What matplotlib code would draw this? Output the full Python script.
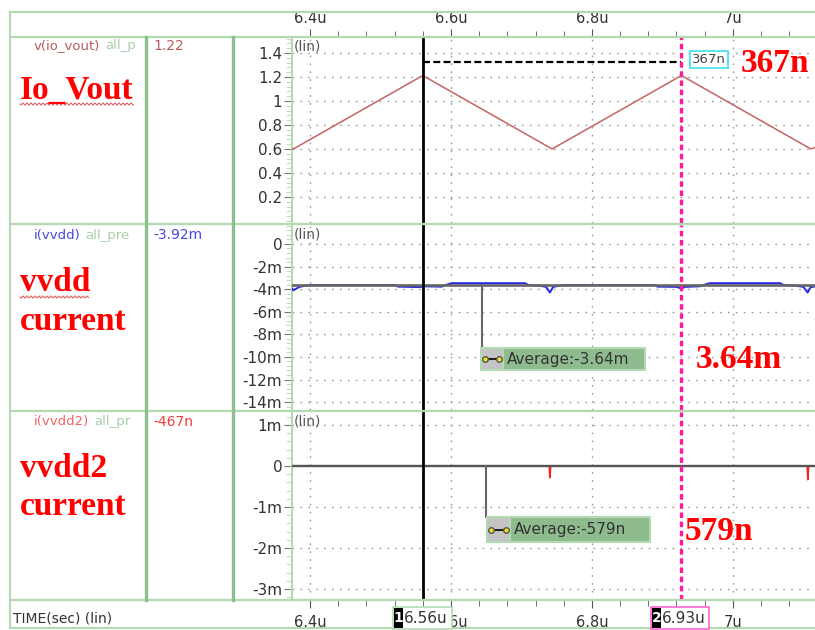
import numpy as np
import matplotlib
matplotlib.use("Agg")
import matplotlib.pyplot as plt
from matplotlib.lines import Line2D
from matplotlib.patches import Rectangle
from matplotlib.ticker import FixedLocator, MultipleLocator

# ---- data (time in us, voltage in V, current in mA) ----
t_vout = [6.3745, 6.3765, 6.560, 6.7435, 6.927, 7.1105, 7.1165]
v_vout = [0.603, 0.600, 1.212, 0.600, 1.212, 0.600, 0.612]

t_vdd = [6.3745, 6.3765, 6.385, 6.393, 6.400, 6.520, 6.525, 6.556, 6.560,
         6.587, 6.592, 6.6014, 6.705, 6.710, 6.726, 6.735, 6.7404, 6.745,
         6.754, 6.760, 6.889, 6.893, 6.920, 6.927, 6.932, 6.953, 6.958,
         6.967, 7.067, 7.072, 7.090, 7.100, 7.106, 7.110, 7.1165]
i_vdd = [-3.95, -4.10, -3.80, -3.70, -3.64, -3.64, -3.78, -3.82, -3.75,
         -3.78, -3.64, -3.47, -3.47, -3.64, -3.70, -3.80, -4.30, -3.80,
         -3.70, -3.64, -3.64, -3.78, -3.80, -3.95, -3.80, -3.75, -3.64,
         -3.47, -3.47, -3.64, -3.70, -3.80, -4.30, -3.85, -3.75]

t_vdd2 = [6.3745, 6.7395, 6.7404, 6.7413, 7.1055, 7.1064, 7.1073, 7.1165]
i_vdd2 = [0.0, 0.0, -0.28, 0.0, 0.0, -0.33, 0.0, 0.0]

avg_vdd = -3.64
avg_vdd2 = -0.000579
cursor1 = 6.56
cursor2 = 6.927

x_major = [6.4, 6.6, 6.8, 7.0]
x_labels = ["6.4u", "6.6u", "6.8u", "7u"]
y1_ticks = [0.2, 0.4, 0.6, 0.8, 1.0, 1.2, 1.4]
y1_labels = ["0.2", "0.4", "0.6", "0.8", "1", "1.2", "1.4"]
y2_ticks = [0, -2, -4, -6, -8, -10, -12, -14]
y2_labels = ["0", "-2m", "-4m", "-6m", "-8m", "-10m", "-12m", "-14m"]
y3_ticks = [1, 0, -1, -2, -3]
y3_labels = ["1m", "0", "-1m", "-2m", "-3m"]

plt.rcParams["lines.scale_dashes"] = False
W, H = 815, 630
fig = plt.figure(figsize=(W / 100, H / 100), dpi=100)
fig.patch.set_facecolor("white")

GREEN = "#b3d9b3"
DKGREEN = "#8fbf8f"
GRID = "#9a9a9a"
TXT = "#333333"


def fx(x):
    return x / W


def fy(y):
    return 1 - y / H


def ftext(x, y, s, **kw):
    return fig.text(fx(x), fy(y), s, **kw)


def fline(xs, ys, **kw):
    fig.add_artist(Line2D([fx(v) for v in xs], [fy(v) for v in ys], **kw))


def make_ax(top, bottom, ylim, ticks, labels, minor):
    ax = fig.add_axes([fx(292), fy(bottom), fx(815 - 292), (bottom - top) / H])
    ax.set_xlim(6.3745, 7.1165)
    ax.set_ylim(*ylim)
    for s in ["top", "right", "bottom"]:
        ax.spines[s].set_visible(False)
    ax.spines["left"].set_color(GREEN)
    ax.spines["left"].set_linewidth(1.5)
    ax.xaxis.set_major_locator(FixedLocator(x_major))
    ax.xaxis.set_minor_locator(MultipleLocator(0.04))
    ax.set_xticklabels(x_labels)
    ax.tick_params(axis="x", which="both", bottom=False, labelbottom=False)
    ax.yaxis.set_major_locator(FixedLocator(ticks))
    ax.set_yticklabels(labels)
    ax.yaxis.set_minor_locator(MultipleLocator(minor))
    ax.tick_params(axis="y", which="major", length=6, color="#777777",
                   labelsize=11, labelcolor=TXT, pad=1)
    ax.tick_params(axis="y", which="minor", length=4, color=GREEN)
    ax.grid(True, which="major", color=GRID, linestyle=(0, (1.2, 4.5)), linewidth=1)
    ax.text(0.004, 0.985, "(lin)", transform=ax.transAxes, fontsize=10,
            color="#555555", va="top", ha="left")
    return ax


ax1 = make_ax(37, 223, (-0.017, 1.533), y1_ticks, y1_labels, 0.04)
ax2 = make_ax(225, 410, (-14.7, 1.68), y2_ticks, y2_labels, 0.4)
ax3 = make_ax(412, 600, (-3.27, 1.32), y3_ticks, y3_labels, 0.2)

ax1.tick_params(axis="x", which="both", top=True, labeltop=True, direction="out",
                color="#555555", labelsize=10.5, labelcolor=TXT, pad=2)
ax1.tick_params(axis="x", which="major", length=6)
ax1.tick_params(axis="x", which="minor", length=4)
ax3.tick_params(axis="x", which="both", bottom=True, labelbottom=True, direction="out",
                color="#555555", labelsize=10.5, labelcolor=TXT, pad=5)
ax3.tick_params(axis="x", which="major", length=6)
ax3.tick_params(axis="x", which="minor", length=4)

# traces
ax1.plot(t_vout, v_vout, color="#c26464", lw=1.1, zorder=3)
ax2.plot(t_vdd, i_vdd, color="#2828e6", lw=1.4, zorder=3)
ax2.axhline(avg_vdd, color="#666666", lw=1.9, zorder=4)
ax3.plot(t_vdd2, i_vdd2, color="#ff2020", lw=1.3, zorder=3)
ax3.axhline(avg_vdd2, color="#555555", lw=1.7, zorder=4)

# cursors
for ax in (ax1, ax2, ax3):
    ax.axvline(cursor1, color="black", lw=2, zorder=6)
    ax.axvline(cursor2, color="#ff1a9a", lw=2.4, linestyle=(0, (4.0, 2.6)), zorder=6)

# delta marker
ax1.plot([cursor1, cursor2], [1.325, 1.325], color="black", lw=1.6,
         linestyle=(0, (5, 2.4)), zorder=5)
ax1.text(6.9665, 1.346, "367n", fontsize=9.5, color="#444444", ha="center", va="center",
         zorder=7, bbox=dict(boxstyle="square,pad=0.15", fc="white", ec="#40e0f0", lw=1.2))


def avg_box(ax, xl, xi, xr, ytop, ybot, xt, text, x_lead, y_from):
    ax.plot([x_lead, x_lead], [y_from, ytop], color="#666666", lw=1.5, zorder=4)
    ax.add_patch(Rectangle((xi, ybot), xr - xi, ytop - ybot, fc="#8fbc8f",
                           ec="#b3dab3", lw=1.5, zorder=5))
    ax.add_patch(Rectangle((xl, ybot), xi - xl, ytop - ybot, fc="#c4c4c4",
                           ec="#b3dab3", lw=1.5, zorder=5))
    yc = (ytop + ybot) / 2
    ax.plot([xl + 0.006, xi - 0.006], [yc, yc], color="#222222", lw=1.5, zorder=6,
            marker="o", ms=4, mfc="#f0e020", mec="#555555")
    ax.text(xt, yc, text, fontsize=11, color=TXT, va="center", ha="left", zorder=7)


avg_box(ax2, 6.6426, 6.6738, 6.8752, -9.2, -11.2, 6.680, "Average:-3.64m", 6.644, avg_vdd)
avg_box(ax3, 6.6511, 6.6837, 6.8823, -1.244, -1.854, 6.689, "Average:-579n", 6.6496, 0)

# ---- frame and left columns ----
fline([10, 815], [12, 12], color=GREEN, lw=1.5)
fline([10, 10], [12, 628], color=GREEN, lw=1.5)
fline([10, 815], [628, 628], color=GREEN, lw=1.5)
for yy in (37, 224, 411, 600):
    fline([10, 815], [yy, yy], color=GREEN, lw=1.6)
for xx in (146, 233):
    fline([xx, xx], [37, 600], color=DKGREEN, lw=2.4, zorder=5)

name_rows = [(46, "v(io_vout)", "#b85a5a", "1.22", "#b85a5a"),
             (235, "i(vvdd)", "#4646e6", "-3.92m", "#4646e6"),
             (422, "i(vvdd2)", "#f06464", "-467n", "#f03c3c")]
extra = ["all_p", "all_pre", "all_pr"]
fig.canvas.draw()
for (yy, nm, col, val, vcol), ex in zip(name_rows, extra):
    t = ftext(34, yy, nm, fontsize=9.5, color=col, va="center", ha="left")
    bb = t.get_window_extent(renderer=fig.canvas.get_renderer())
    fig.text(fx(bb.x1 + 5), fy(yy), ex, fontsize=9.5, color="#a8cfa8",
             va="center", ha="left")
    ftext(153, yy, val, fontsize=10, color=vcol, va="center", ha="left")

ftext(13, 619, "TIME(sec) (lin)", fontsize=10, color=TXT, va="center", ha="left")

# bottom cursor labels
for x0, x1, ec, num, lab in [(393, 452, "#b3dab3", "1", "6.56u"),
                             (651, 709, "#ff66cc", "2", "6.93u")]:
    fig.add_artist(Rectangle((fx(x0), fy(629)), fx(x1 - x0), 22 / H,
                             transform=fig.transFigure, fc="white", ec=ec, lw=1.2, zorder=8))
    fig.add_artist(Rectangle((fx(x0 + 1), fy(628)), fx(9), 20 / H,
                             transform=fig.transFigure, fc="black", ec="none", zorder=9))
    ftext(x0 + 5.5, 618.5, num, fontsize=10, color="white", weight="bold",
          ha="center", va="center", zorder=10)
    ftext(x0 + 11, 618.5, lab, fontsize=11, color=TXT, ha="left", va="center", zorder=10)

# big red annotations
red_kw = dict(fontsize=24, color="red", weight="bold", family="Liberation Serif",
              va="baseline", ha="left")
ftext(20, 99, "Io_Vout", **red_kw)
ftext(20, 291, "vvdd", **red_kw)
ftext(20, 330, "current", **red_kw)
ftext(20, 477, "vvdd2", **red_kw)
ftext(20, 515, "current", **red_kw)
ftext(741, 72, "367n", **red_kw)
ftext(696, 368, "3.64m", **red_kw)
ftext(685, 540, "579n", **red_kw)

# spell-check squiggles under the red labels
for x0, x1, yy in [(20, 134, 104), (20, 89, 297)]:
    xs = np.arange(x0, x1, 0.5)
    ys = yy + 1.0 * np.sin((xs - x0) * np.pi / 2)
    fline(xs, ys, color="#e05050", lw=0.7)

fig.savefig("out.png", dpi=100, facecolor="white")
